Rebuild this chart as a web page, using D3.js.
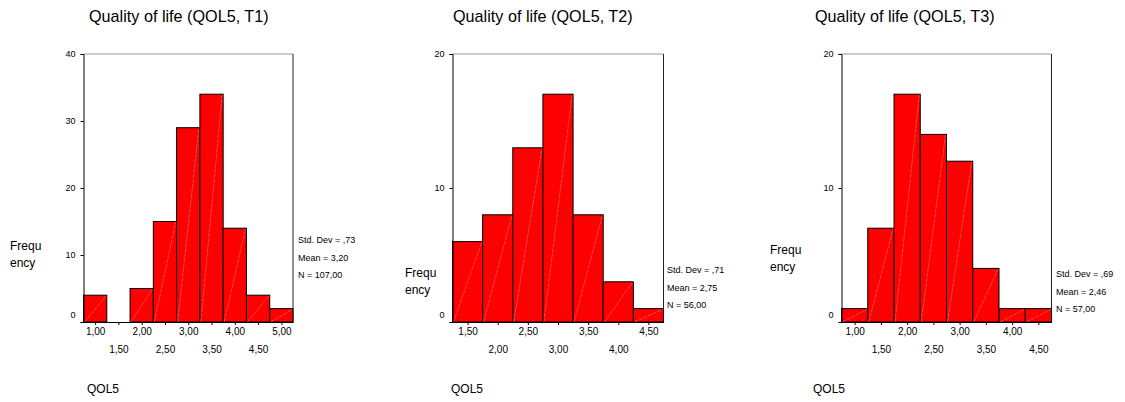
<!DOCTYPE html>
<html>
<head>
<meta charset="utf-8">
<script src="https://cdn.jsdelivr.net/npm/d3@7"></script>
<style>
    body { margin: 0; background: #fff; }
    text { font-family: Arial, "Liberation Sans", sans-serif; fill: #000; }
</style>
</head>
<body>
<svg id="chart"></svg>
<script>
// bin centers (bin width 0,50) and counts
let titles = ['Quality of life (QOL5, T1)', 'Quality of life (QOL5, T2)', 'Quality of life (QOL5, T3)'];
let binsT1 = [1.0, 1.5, 2.0, 2.5, 3.0, 3.5, 4.0, 4.5, 5.0];
let countsT1 = [4, 0, 5, 15, 29, 34, 14, 4, 2];
let binsT2 = [1.5, 2.0, 2.5, 3.0, 3.5, 4.0, 4.5];
let countsT2 = [6, 8, 13, 17, 8, 3, 1];
let binsT3 = [1.0, 1.5, 2.0, 2.5, 3.0, 3.5, 4.0, 4.5];
let countsT3 = [1, 7, 17, 14, 12, 4, 1, 1];
let yTicksT1 = [0, 10, 20, 30, 40];
let yTicksT2 = [0, 10, 20];
let yTicksT3 = [0, 10, 20];
let statsT1 = ['Std. Dev = ,73', 'Mean = 3,20', 'N = 107,00'];
let statsT2 = ['Std. Dev = ,71', 'Mean = 2,75', 'N = 56,00'];
let statsT3 = ['Std. Dev = ,69', 'Mean = 2,46', 'N = 57,00'];
let binWidth = 0.5;

let width = 1125,
    height = 402;

let svg = d3.select('#chart')
    .attr('width', width)
    .attr('height', height);

let fmt = d => d.toFixed(2).replace('.', ',');

let panels = [
    { title: titles[0], bins: binsT1, counts: countsT1, yTicks: yTicksT1, stats: statsT1,
      left: 83.5, right: 293, titleX: 89, freqX: 10, freqY: 250, statsX: 298, statsY: 243 },
    { title: titles[1], bins: binsT2, counts: countsT2, yTicks: yTicksT2, stats: statsT2,
      left: 452.5, right: 663.5, titleX: 453, freqX: 405, freqY: 277, statsX: 667, statsY: 273 },
    { title: titles[2], bins: binsT3, counts: countsT3, yTicks: yTicksT3, stats: statsT3,
      left: 841.5, right: 1051.5, titleX: 815, freqX: 770, freqY: 254, statsX: 1056, statsY: 277 }
];

let plotTop = 54,
    plotBottom = 322;

panels.forEach(p => {
    let g = svg.append('g');

    let scaleX = d3.scaleLinear()
        .domain([p.bins[0] - binWidth / 2, p.bins[p.bins.length - 1] + binWidth / 2])
        .range([p.left, p.right]);

    let scaleY = d3.scaleLinear()
        .domain([0, d3.max(p.yTicks)])
        .range([plotBottom, plotTop]);

    g.append('text')
        .attr('x', p.titleX)
        .attr('y', 22)
        .style('font-size', '16.2px')
        .text(p.title);

    // frame: top grey, right dark
    g.append('line')
        .attr('x1', p.left).attr('x2', p.right)
        .attr('y1', plotTop).attr('y2', plotTop)
        .attr('stroke', '#9a9a9a');
    g.append('line')
        .attr('x1', p.right).attr('x2', p.right)
        .attr('y1', plotTop).attr('y2', plotBottom)
        .attr('stroke', '#222');

    let bars = g.selectAll('g.bar')
        .data(p.bins.map((b, i) => ({ bin: b, count: p.counts[i] })))
        .enter()
        .append('g')
        .attr('class', 'bar');

    bars.filter(d => d.count > 0)
        .append('rect')
        .attr('x', d => scaleX(d.bin - binWidth / 2))
        .attr('y', d => scaleY(d.count))
        .attr('width', d => scaleX(d.bin + binWidth / 2) - scaleX(d.bin - binWidth / 2))
        .attr('height', d => scaleY(0) - scaleY(d.count))
        .attr('fill', '#ff0000')
        .attr('stroke', '#000')
        .attr('stroke-width', 1);

    // faint diagonal hatch inside each bar
    bars.filter(d => d.count > 0)
        .append('line')
        .attr('x1', d => scaleX(d.bin - binWidth / 2) + 1)
        .attr('y1', scaleY(0))
        .attr('x2', d => scaleX(d.bin + binWidth / 2) - 1)
        .attr('y2', d => scaleY(d.count) + 1)
        .attr('stroke', '#ff9090')
        .attr('stroke-width', 0.5)
        .attr('stroke-dasharray', '4,1');

    // y axis
    let yAxis = d3.axisLeft(scaleY)
        .tickValues(p.yTicks)
        .tickSize(3)
        .tickPadding(5);

    let yAxisG = g.append('g')
        .attr('transform', `translate(${p.left}, 0)`)
        .call(yAxis);
    yAxisG.select('.domain').attr('stroke', '#000');
    yAxisG.selectAll('text')
        .style('font-size', '9px')
        .attr('font-family', null)
        .attr('dy', d => d === 0 ? '-0.5em' : '0.32em');

    // x axis, labels staggered on two rows
    let xAxis = d3.axisBottom(scaleX)
        .tickValues(p.bins)
        .tickFormat(fmt)
        .tickSize(3)
        .tickSizeOuter(0)
        .tickPadding(4);

    let xAxisG = g.append('g')
        .attr('transform', `translate(0, ${plotBottom})`)
        .call(xAxis);
    xAxisG.select('.domain').attr('stroke', '#000');
    xAxisG.selectAll('text')
        .style('font-size', '10px')
        .attr('font-family', null)
        .attr('y', (d, i) => i % 2 === 0 ? 6 : 24);

    g.append('text')
        .attr('x', p.freqX)
        .attr('y', p.freqY)
        .style('font-size', '12px')
        .text('Frequ');
    g.append('text')
        .attr('x', p.freqX)
        .attr('y', p.freqY + 17)
        .style('font-size', '12px')
        .text('ency');

    g.selectAll('text.stat')
        .data(p.stats)
        .enter()
        .append('text')
        .attr('class', 'stat')
        .attr('x', p.statsX)
        .attr('y', (d, i) => p.statsY + i * 17.5)
        .style('font-size', '9px')
        .text(d => d);

    g.append('text')
        .attr('x', p.titleX - 2)
        .attr('y', 393)
        .style('font-size', '12px')
        .text('QOL5');
});
</script>
</body>
</html>
